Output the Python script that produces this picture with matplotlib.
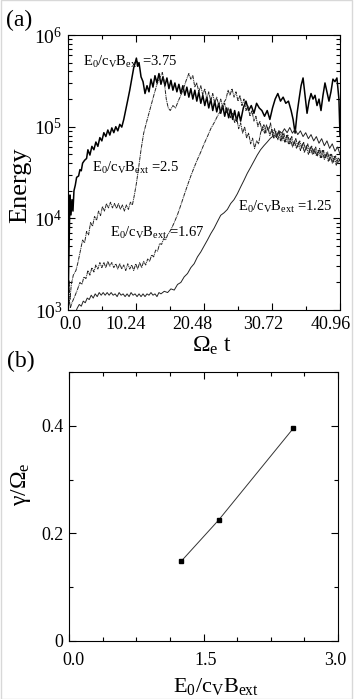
import matplotlib
matplotlib.use("Agg")
import matplotlib.pyplot as plt
import matplotlib.transforms as mtransforms
from matplotlib.patches import Rectangle
from matplotlib.ticker import FixedLocator, MultipleLocator, LogLocator, NullFormatter

plt.rcParams["font.family"] = ["Liberation Serif", "DejaVu Serif"]
plt.rcParams["mathtext.fontset"] = "custom"
plt.rcParams["mathtext.rm"] = "Liberation Serif"
plt.rcParams["mathtext.it"] = "Liberation Serif:italic"
plt.rcParams["mathtext.bf"] = "Liberation Serif:bold"

# ---- panel (a): energy vs time, one curve per E0/cvBext ----
t_375 = [0.0, 0.15, 0.3, 0.45, 0.6, 0.75, 0.9, 1.1, 1.3, 1.6, 1.8, 2.0, 2.2, 2.5, 2.8, 3.0,
         3.3, 3.6, 3.9, 4.2, 4.5, 4.8, 5.1, 5.4, 5.7, 6.0, 6.3, 6.6, 6.9, 7.2, 7.5, 7.8,
         8.1, 8.4, 8.7, 9.0, 9.3, 9.6, 9.9, 10.1, 10.3, 10.5, 10.7, 11.0, 11.3, 11.6, 11.9,
         12.2, 12.5, 12.8, 13.1, 13.4, 13.7, 14.0, 14.3, 14.6, 14.9, 15.2, 15.5, 15.8, 16.1,
         16.4, 16.7, 17.0, 17.3, 17.6, 17.9, 18.2, 18.5, 18.8, 19.1, 19.4, 19.7, 20.0, 20.3,
         20.6, 20.9, 21.2, 21.5, 21.8, 22.1, 22.4, 22.7, 23.0, 23.3, 23.6, 23.9, 24.2, 24.5,
         24.8, 25.1, 25.4, 25.7, 26.0, 26.4, 26.8, 27.2, 27.6, 28.0, 28.4, 28.8, 29.2, 29.6,
         30.0, 30.4, 30.8, 31.2, 31.6, 32.0, 32.4, 32.8, 33.2, 33.6, 33.9, 34.2, 34.5, 34.8,
         35.1, 35.4, 35.7, 36.0, 36.3, 36.6, 36.9, 37.2, 37.5, 37.8, 38.1, 38.4, 38.7, 39.0,
         39.3, 39.6, 39.9, 40.2, 40.5, 40.8, 40.96]
e_375 = [1.0e3, 4.5e3, 1.8e4, 1.09e4, 1.6e4, 1.2e4, 2.0e4, 2.3e4, 2.8e4, 2.9e4, 3.4e4, 3.3e4,
         4.0e4, 4.3e4, 4.5e4, 5.6e4, 4.9e4, 6.1e4, 5.6e4, 6.8e4, 6.1e4, 7.6e4, 7.0e4, 8.6e4,
         7.8e4, 9.2e4, 8.1e4, 9.7e4, 8.6e4, 1.0e5, 9.0e4, 1.06e5, 9.9e4, 1.2e5, 1.52e5, 1.95e5,
         2.5e5, 3.3e5, 4.4e5, 4.9e5, 5.6e5, 4.6e5, 5.0e5, 3.5e5, 3.1e5, 2.3e5, 2.8e5, 2.4e5,
         3.3e5, 2.7e5, 3.6e5, 3.0e5, 3.8e5, 2.9e5, 3.5e5, 2.8e5, 3.4e5, 2.6e5, 3.2e5, 2.5e5,
         3.0e5, 2.4e5, 2.9e5, 2.3e5, 2.8e5, 2.2e5, 2.7e5, 2.1e5, 2.6e5, 2.0e5, 2.5e5, 1.9e5,
         2.4e5, 1.8e5, 2.2e5, 1.7e5, 2.1e5, 1.6e5, 2.0e5, 1.5e5, 1.9e5, 1.45e5, 1.8e5, 1.4e5,
         1.7e5, 1.3e5, 1.6e5, 1.25e5, 1.55e5, 1.2e5, 1.5e5, 1.15e5, 1.45e5, 1.15e5, 1.6e5,
         1.9e5, 1.5e5, 1.7e5, 1.4e5, 1.8e5, 1.6e5, 1.5e5, 1.3e5, 1.5e5, 1.2e5, 1.6e5, 2.0e5,
         2.3e5, 1.9e5, 2.1e5, 1.8e5, 1.9e5, 1.5e5, 1.2e5, 8.5e4, 1.4e5, 2.0e5, 2.8e5, 3.4e5,
         2.2e5, 1.4e5, 1.9e5, 2.3e5, 2.0e5, 2.2e5, 1.7e5, 2.0e5, 1.5e5, 2.2e5, 3.0e5, 2.4e5,
         1.9e5, 2.4e5, 3.3e5, 3.1e5, 3.4e5, 2.0e5, 8.0e4]

t_25 = [0.0, 0.15, 0.3, 0.5, 0.8, 1.2, 1.5, 1.8, 2.2, 2.5, 2.8, 3.1, 3.4, 3.7, 4.0, 4.3, 4.6,
        4.9, 5.2, 5.5, 5.8, 6.1, 6.4, 6.7, 7.0, 7.3, 7.6, 7.9, 8.2, 8.5, 8.8, 9.1, 9.4, 9.7,
        10.0, 10.3, 10.6, 11.0, 11.4, 11.8, 12.2, 12.6, 13.0, 13.4, 13.8, 14.2, 14.5, 14.8,
        15.1, 15.4, 15.8, 16.2, 16.6, 17.0, 17.4, 17.8, 18.2, 18.5, 18.8, 19.1, 19.4, 19.7,
        20.0, 20.3, 20.6, 20.9, 21.2, 21.5, 21.8, 22.1, 22.4, 22.7, 23.0, 23.3, 23.6, 23.9,
        24.2, 24.5, 24.8, 25.1, 25.4, 25.7, 26.0, 26.3, 26.6, 26.9, 27.2, 27.5, 27.8, 28.1,
        28.4, 28.7, 29.0, 29.3, 29.6, 29.9, 30.2, 30.5, 30.8, 31.1, 31.4, 31.7, 32.0, 32.3,
        32.6, 32.9, 33.2, 33.5, 33.8, 34.1, 34.4, 34.7, 35.0, 35.3, 35.6, 35.9, 36.2, 36.5,
        36.8, 37.1, 37.4, 37.7, 38.0, 38.3, 38.6, 38.9, 39.2, 39.5, 39.8, 40.1, 40.4, 40.7,
        40.96]
e_25 = [1.0e3, 2.1e3, 1.3e3, 1.9e3, 2.4e3, 2.7e3, 3.3e3, 4.2e3, 5.8e3, 5.4e3, 7.2e3, 6.6e3,
        9.0e3, 8.2e3, 1.05e4, 9.5e3, 1.2e4, 1.07e4, 1.35e4, 1.2e4, 1.45e4, 1.3e4, 1.5e4,
        1.3e4, 1.45e4, 1.28e4, 1.45e4, 1.25e4, 1.4e4, 1.2e4, 1.4e4, 1.25e4, 1.5e4, 1.4e4,
        1.8e4, 2.4e4, 3.4e4, 5.6e4, 8.5e4, 1.1e5, 1.4e5, 1.8e5, 2.3e5, 2.9e5, 3.4e5, 3.9e5,
        3.1e5, 2.0e5, 1.6e5, 1.5e5, 1.7e5, 1.6e5, 1.9e5, 2.2e5, 2.6e5, 3.2e5, 3.8e5, 3.3e5,
        3.6e5, 2.7e5, 3.0e5, 2.4e5, 2.8e5, 2.2e5, 2.6e5, 2.0e5, 2.4e5, 1.9e5, 2.3e5, 1.8e5,
        2.1e5, 1.7e5, 2.0e5, 1.6e5, 1.8e5, 1.4e5, 1.6e5, 1.25e5, 1.4e5, 1.1e5, 1.25e5, 9.5e4,
        1.1e5, 8.5e4, 1.0e5, 7.5e4, 8.5e4, 6.5e4, 7.5e4, 5.8e4, 7.0e4, 6.5e4, 8.5e4, 1.0e5,
        8.5e4, 1.05e5, 9.0e4, 1.1e5, 8.0e4, 9.5e4, 7.5e4, 9.0e4, 7.0e4, 8.5e4, 6.8e4, 8.0e4,
        6.5e4, 7.5e4, 6.0e4, 7.0e4, 5.8e4, 6.8e4, 5.5e4, 6.5e4, 5.2e4, 6.2e4, 5.0e4, 6.0e4,
        5.0e4, 5.8e4, 4.8e4, 5.6e4, 4.6e4, 5.5e4, 4.4e4, 5.2e4, 4.2e4, 5.0e4, 4.0e4, 4.8e4,
        3.8e4, 4.6e4, 4.2e4]

t_167 = [0.0, 0.2, 0.35, 0.6, 1.0, 1.4, 1.8, 2.1, 2.4, 2.7, 3.0, 3.3, 3.6, 3.9, 4.2, 4.5, 4.8,
         5.1, 5.4, 5.7, 6.0, 6.3, 6.6, 6.9, 7.2, 7.5, 7.8, 8.1, 8.4, 8.7, 9.0, 9.3, 9.6, 9.9,
         10.2, 10.5, 10.8, 11.1, 11.4, 11.7, 12.0, 12.3, 12.6, 12.9, 13.2, 13.5, 13.8, 14.1,
         14.4, 14.7, 15.0, 15.5, 16.0, 16.5, 17.0, 17.5, 18.0, 18.5, 19.0, 19.5, 20.0, 20.5,
         21.0, 21.5, 22.0, 22.5, 23.0, 23.4, 23.8, 24.1, 24.4, 24.7, 25.0, 25.3, 25.6, 25.9,
         26.2, 26.5, 26.8, 27.1, 27.4, 27.7, 28.0, 28.3, 28.6, 28.9, 29.2, 29.5, 29.8, 30.1,
         30.4, 30.7, 31.0, 31.3, 31.6, 31.9, 32.2, 32.5, 32.8, 33.1, 33.4, 33.7, 34.0, 34.3,
         34.6, 34.9, 35.2, 35.5, 35.8, 36.1, 36.4, 36.7, 37.0, 37.3, 37.6, 37.9, 38.2, 38.5,
         38.8, 39.1, 39.4, 39.7, 40.0, 40.3, 40.6, 40.96]
e_167 = [1.0e3, 1.3e3, 1.05e3, 1.2e3, 1.4e3, 1.65e3, 2.0e3, 1.9e3, 2.3e3, 2.2e3, 2.7e3, 2.4e3,
         2.9e3, 2.6e3, 3.1e3, 2.8e3, 3.3e3, 2.9e3, 3.3e3, 2.9e3, 3.4e3, 3.0e3, 3.3e3, 2.9e3,
         3.2e3, 2.8e3, 3.2e3, 2.8e3, 3.1e3, 2.7e3, 3.2e3, 2.8e3, 3.1e3, 2.7e3, 3.2e3, 2.8e3,
         3.3e3, 2.9e3, 3.4e3, 3.1e3, 3.6e3, 3.4e3, 4.0e3, 3.8e3, 4.5e3, 4.4e3, 5.3e3, 5.2e3,
         6.0e3, 5.8e3, 6.6e3, 7.5e3, 9.0e3, 1.1e4, 1.4e4, 1.8e4, 2.3e4, 2.9e4, 3.6e4, 4.4e4,
         5.3e4, 6.5e4, 7.8e4, 9.5e4, 1.1e5, 1.3e5, 1.5e5, 1.8e5, 2.0e5, 2.5e5, 2.2e5, 2.6e5,
         2.1e5, 2.4e5, 1.9e5, 2.2e5, 1.7e5, 2.0e5, 1.5e5, 1.7e5, 1.3e5, 1.5e5, 1.15e5, 1.3e5,
         1.0e5, 1.15e5, 9.0e4, 1.05e5, 8.5e4, 9.8e4, 8.0e4, 9.5e4, 7.5e4, 9.0e4, 7.2e4, 8.8e4,
         7.0e4, 8.5e4, 6.8e4, 8.2e4, 6.5e4, 7.8e4, 6.2e4, 7.5e4, 6.0e4, 7.0e4, 5.8e4, 6.8e4,
         5.5e4, 6.5e4, 5.2e4, 6.2e4, 5.0e4, 6.0e4, 4.8e4, 5.8e4, 4.6e4, 5.5e4, 4.5e4, 5.3e4,
         4.3e4, 5.0e4, 4.1e4, 4.8e4, 3.9e4, 4.5e4]

t_125 = [1.0, 1.4, 1.7, 2.0, 2.3, 2.6, 2.9, 3.2, 3.5, 3.8, 4.1, 4.4, 4.7, 5.0, 5.3, 5.6, 5.9,
         6.2, 6.5, 6.8, 7.1, 7.4, 7.7, 8.0, 8.3, 8.6, 8.9, 9.2, 9.5, 9.8, 10.1, 10.4, 10.7,
         11.0, 11.3, 11.6, 11.9, 12.2, 12.5, 12.8, 13.1, 13.4, 13.7, 14.0, 14.5, 15.0, 15.5,
         16.0, 16.5, 17.0, 17.5, 18.0, 18.5, 19.0, 19.5, 20.0, 20.5, 21.0, 21.5, 22.0, 22.5,
         23.0, 23.5, 24.0, 24.5, 25.0, 25.5, 26.0, 26.5, 27.0, 27.5, 28.0, 28.5, 29.0, 29.5,
         30.0, 30.5, 31.0, 31.4, 31.8, 32.2, 32.6, 33.0, 33.4, 33.8, 34.2, 34.6, 35.0, 35.4,
         35.8, 36.2, 36.6, 37.0, 37.4, 37.8, 38.2, 38.6, 39.0, 39.4, 39.8, 40.2, 40.6, 40.96]
e_125 = [9.0e2, 1.05e3, 1.15e3, 1.1e3, 1.25e3, 1.2e3, 1.35e3, 1.3e3, 1.45e3, 1.35e3, 1.5e3,
         1.4e3, 1.55e3, 1.45e3, 1.55e3, 1.45e3, 1.55e3, 1.45e3, 1.55e3, 1.45e3, 1.5e3, 1.4e3,
         1.55e3, 1.45e3, 1.5e3, 1.4e3, 1.5e3, 1.4e3, 1.55e3, 1.45e3, 1.5e3, 1.4e3, 1.5e3,
         1.4e3, 1.5e3, 1.4e3, 1.5e3, 1.45e3, 1.55e3, 1.45e3, 1.5e3, 1.4e3, 1.55e3, 1.5e3,
         1.6e3, 1.55e3, 1.7e3, 1.65e3, 1.9e3, 2.0e3, 2.3e3, 2.5e3, 2.9e3, 3.2e3, 3.8e3, 4.3e3,
         5.0e3, 5.8e3, 6.8e3, 7.8e3, 9.2e3, 1.08e4, 1.15e4, 1.25e4, 1.45e4, 1.6e4, 1.85e4,
         2.2e4, 2.6e4, 3.1e4, 3.6e4, 4.2e4, 4.9e4, 5.6e4, 6.2e4, 6.8e4, 7.5e4, 8.0e4, 7.8e4,
         9.0e4, 8.5e4, 9.5e4, 8.6e4, 9.8e4, 8.5e4, 9.4e4, 8.2e4, 9.0e4, 7.8e4, 8.6e4, 7.4e4,
         8.2e4, 7.0e4, 7.8e4, 6.6e4, 7.4e4, 6.2e4, 7.0e4, 5.8e4, 6.5e4, 5.4e4, 6.0e4, 5.0e4]

curve_labels = ["3.75", "2.5", "1.67", "1.25"]
label_t = [2.3, 3.6, 6.3, 25.6]
label_e = [4.6e5, 3.2e4, 6.3e3, 1.2e4]
time_ticks = [0.0, 10.24, 20.48, 30.72, 40.96]

# ---- panel (b): growth rate vs E0/cvBext ----
ratio = [1.25, 1.67, 2.5]
growth = [0.148, 0.225, 0.395]

fig = plt.figure(figsize=(3.55, 6.99), dpi=100)
ax1 = fig.add_axes([0.1915, 0.5565, 0.7662, 0.3934])
ax2 = fig.add_axes([0.1944, 0.0830, 0.7577, 0.3848])

ax1.plot(t_375, e_375, color="black", lw=1.1)
ax1.plot(t_25, e_25, color="#222222", lw=0.7, ls=(0, (4, 0.8, 1, 0.8)))
ax1.plot(t_167, e_167, color="#222222", lw=0.7, ls=(0, (4, 0.8, 1, 0.8)))
ax1.plot(t_125, e_125, color="#222222", lw=0.7)
ax1.set_yscale("log")
ax1.set_xlim(0, 40.96)
ax1.set_ylim(1e3, 1e6)
ax1.set_xticks(time_ticks)
ax1.set_xticklabels([f"{v:.2f}" if v % 1 else f"{v:.1f}" for v in time_ticks])
ax1.xaxis.set_minor_locator(MultipleLocator(5.12))
ax1.yaxis.set_minor_locator(LogLocator(base=10, subs=range(2, 10)))
ax1.yaxis.set_minor_formatter(NullFormatter())
ax1.set_ylabel("Energy", fontsize=19)
ax1.set_xlabel(r"$\Omega_\mathrm{e}$ t", fontsize=17)
for lab, tx, ey in zip(curve_labels, label_t, label_e):
    ax1.text(tx, ey, r"$\mathrm{E_0/c_V B_{ext}}$ =" + lab, fontsize=10.5,
             ha="left", va="baseline")

ax2.plot(ratio, growth, color="#333333", lw=0.7, marker="s", ms=3.5,
         mfc="black", mec="black")
ax2.set_xlim(0, 3.0)
ax2.set_ylim(0, 0.5)
ax2.set_xticks([0.0, 1.5, 3.0])
ax2.set_xticklabels(["0.0", "1.5", "3.0"])
ax2.xaxis.set_minor_locator(MultipleLocator(0.375))
ax2.set_yticks([0, 0.2, 0.4])
ax2.set_yticklabels(["0", "0.2", "0.4"])
ax2.yaxis.set_minor_locator(FixedLocator([0.1, 0.3, 0.5]))
ax2.set_ylabel(r"γ/Ω$_\mathrm{e}$", fontsize=17)
ax2.set_xlabel(r"$\mathrm{E_0/c_V B_{ext}}$", fontsize=16)

for ax in (ax1, ax2):
    ax.tick_params(which="both", direction="in", top=True, right=True,
                   labelsize=13, width=0.8, pad=4)
    ax.tick_params(which="major", length=5)
    ax.tick_params(which="minor", length=3)
    for sp in ax.spines.values():
        sp.set_linewidth(0.8)
ax1.tick_params(axis="y", labelsize=14)
ax2.tick_params(axis="x", pad=8)

# the tick labels in the original sit a little off their ticks
shift_a = [2, -10, -12, -9, -9]
shift_b = [4, 2, -3]
for axis, shifts in ((ax1, shift_a), (ax2, shift_b)):
    for lbl, dx in zip(axis.get_xticklabels(), shifts):
        lbl.set_transform(lbl.get_transform()
                          + mtransforms.ScaledTranslation(dx / 100, 0, fig.dpi_scale_trans))

ax1.yaxis.set_label_coords(-0.135, 0.455)
ax1.xaxis.set_label_coords(0.53, -0.09)
ax2.yaxis.set_label_coords(-0.135, 0.584)
ax2.xaxis.set_label_coords(0.546, -0.13)

fig.text(0.018, 0.971, "(a)", fontsize=17, ha="left", va="center")
fig.text(0.020, 0.4835, "(b)", fontsize=17, ha="left", va="center")
fig.patches.append(Rectangle((0.004, 0.0), 0.988, 1.0, transform=fig.transFigure,
                             fill=False, edgecolor="#d8d8d8", lw=1.0))

fig.savefig("out.png", dpi=100)
